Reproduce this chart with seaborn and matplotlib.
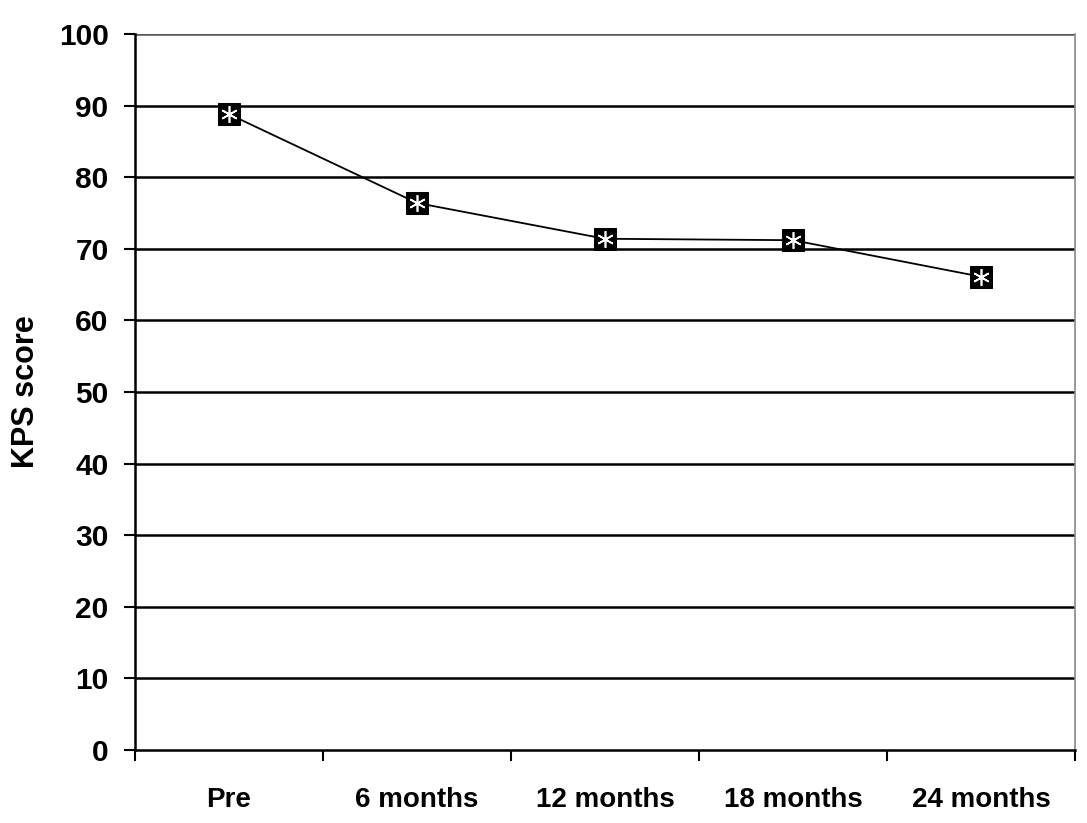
import matplotlib
matplotlib.use("Agg")
import matplotlib.pyplot as plt
import seaborn as sns
import pandas as pd
from matplotlib.ticker import FixedLocator

categories = ["Pre", "6 months", "12 months", "18 months", "24 months"]
kps_scores = [88.8, 76.4, 71.4, 71.2, 66.1]
y_ticks = [0, 10, 20, 30, 40, 50, 60, 70, 80, 90, 100]

sns.set_theme(style="white", rc={"text.color": "black", "axes.labelcolor": "black",
                                 "xtick.color": "black", "ytick.color": "black"})
plt.rcParams['font.family'] = ['Liberation Sans', 'DejaVu Sans']

df = pd.DataFrame({"time": categories, "kps": kps_scores})

fig = plt.figure(figsize=(10.87, 8.23), dpi=100)
ax = fig.add_axes([0.1242, 0.0887, 0.989 - 0.1242, 0.9587 - 0.0887])

for yv in y_ticks[1:-1]:
    ax.axhline(yv, color="black", lw=1.8, zorder=1)
ax.axhline(100, color="#555555", lw=1.8, zorder=1)

sns.lineplot(data=df, x="time", y="kps", ax=ax, color="black", lw=1.3,
             marker="s", markersize=15.5, markerfacecolor="black",
             markeredgecolor="black", zorder=3, sort=False)
ax.plot(range(len(categories)), kps_scores, linestyle="none",
        marker=(6, 2, 0), markersize=12, markeredgecolor="white",
        markeredgewidth=1.2, zorder=4)

ax.set_xlim(-0.5, len(categories) - 0.5)
ax.set_ylim(0, 100)
ax.set_yticks(y_ticks)
ax.set_xticks(range(len(categories)))
ax.set_xticklabels(categories, fontsize=20, fontweight="bold", color="black")
ax.set_yticklabels([str(v) for v in y_ticks], fontsize=21.5, fontweight="bold", color="black")
ax.xaxis.set_minor_locator(FixedLocator([i - 0.5 for i in range(len(categories) + 1)]))
ax.tick_params(axis="x", which="major", length=0, pad=27)
ax.tick_params(axis="x", which="minor", length=8, width=1.5, direction="out",
               bottom=True, color="black")
ax.tick_params(axis="y", which="major", length=8, width=1.5, direction="out",
               left=True, color="black", pad=11)

ax.set_xlabel("")
ax.set_ylabel("KPS score", fontsize=22, fontweight="bold", labelpad=13, color="black")

for s in ["left", "bottom"]:
    ax.spines[s].set_color("black")
    ax.spines[s].set_linewidth(1.8)
ax.spines["top"].set_visible(False)
ax.spines["right"].set_color("#888888")
ax.spines["right"].set_linewidth(1.2)

fig.savefig("out.png", dpi=100, facecolor="white")
